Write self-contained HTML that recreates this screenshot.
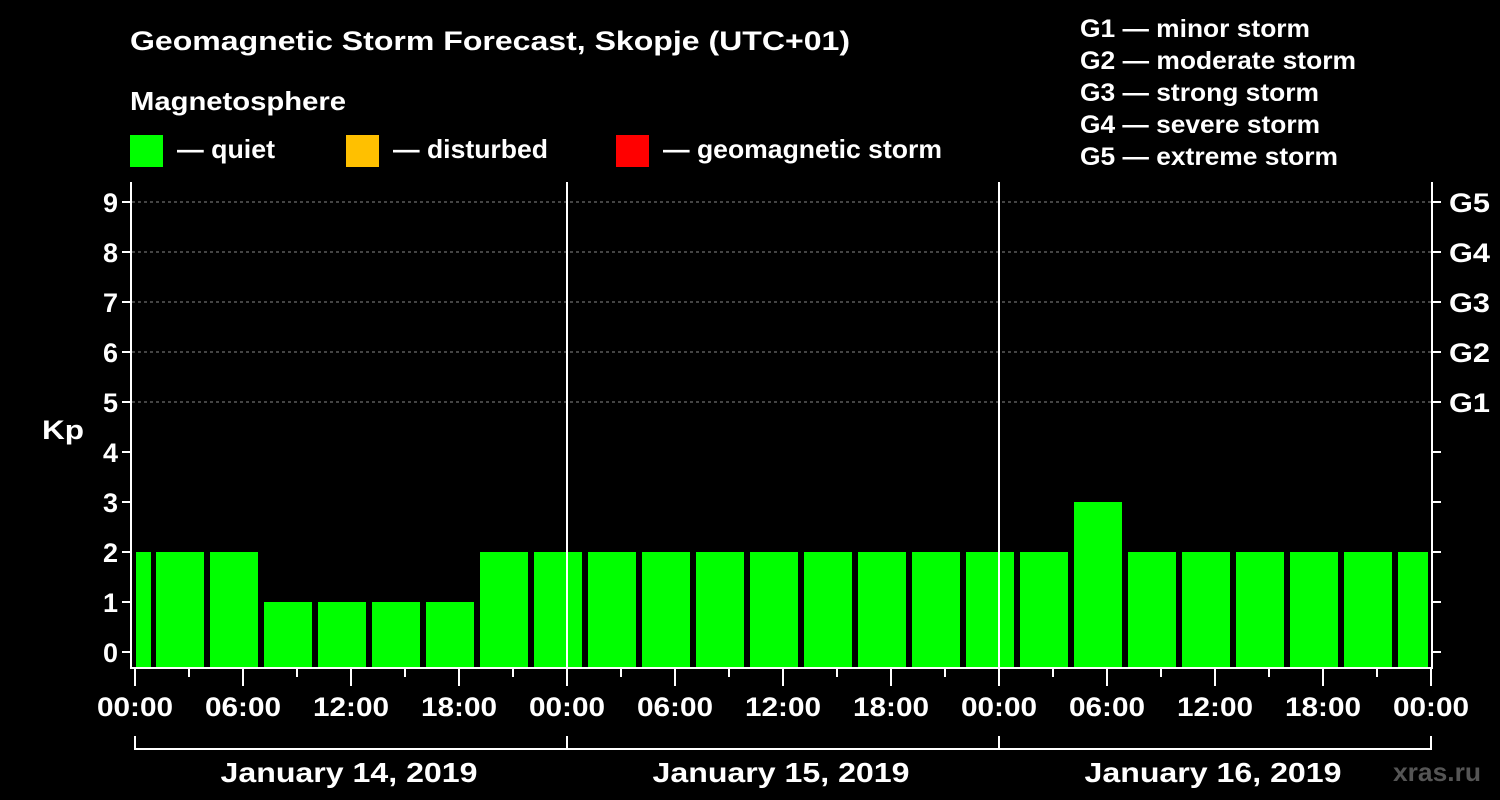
<!DOCTYPE html>
<html><head><style>body{margin:0;background:#000}svg{display:block}text{font-family:"Liberation Sans",Arial,sans-serif;font-weight:bold;fill:#fff}</style></head><body>
<svg width="1500" height="800" viewBox="0 0 1500 800" xmlns="http://www.w3.org/2000/svg">
<rect width="1500" height="800" fill="#000"/>
<text x="130" y="50" font-size="27" textLength="720" lengthAdjust="spacingAndGlyphs">Geomagnetic Storm Forecast, Skopje (UTC+01)</text>
<text x="130" y="110" font-size="26" textLength="216" lengthAdjust="spacingAndGlyphs">Magnetosphere</text>
<rect x="130" y="135" width="33" height="32" fill="#00ff00"/><text x="177" y="158" font-size="26" textLength="98" lengthAdjust="spacingAndGlyphs">— quiet</text>
<rect x="346" y="135" width="33" height="32" fill="#ffc000"/><text x="393" y="158" font-size="26" textLength="155" lengthAdjust="spacingAndGlyphs">— disturbed</text>
<rect x="616" y="135" width="33" height="32" fill="#ff0000"/><text x="663" y="158" font-size="26" textLength="279" lengthAdjust="spacingAndGlyphs">— geomagnetic storm</text>
<g font-size="25"><text x="1080" y="37" textLength="230" lengthAdjust="spacingAndGlyphs">G1 — minor storm</text><text x="1080" y="69" textLength="276" lengthAdjust="spacingAndGlyphs">G2 — moderate storm</text><text x="1080" y="101" textLength="239" lengthAdjust="spacingAndGlyphs">G3 — strong storm</text><text x="1080" y="133" textLength="240" lengthAdjust="spacingAndGlyphs">G4 — severe storm</text><text x="1080" y="165" textLength="258" lengthAdjust="spacingAndGlyphs">G5 — extreme storm</text></g>
<g stroke="#888" stroke-dasharray="3,3" stroke-width="1"><line x1="132" x2="1432" y1="202" y2="202"/><line x1="132" x2="1432" y1="252" y2="252"/><line x1="132" x2="1432" y1="302" y2="302"/><line x1="132" x2="1432" y1="352" y2="352"/><line x1="132" x2="1432" y1="402" y2="402"/></g>
<g fill="#00ff00">
<rect x="136" y="552" width="15" height="116"/>
<rect x="156" y="552" width="48" height="116"/><rect x="210" y="552" width="48" height="116"/>
<rect x="264" y="602" width="48" height="66"/><rect x="318" y="602" width="48" height="66"/><rect x="372" y="602" width="48" height="66"/><rect x="426" y="602" width="48" height="66"/>
<rect x="480" y="552" width="48" height="116"/><rect x="534" y="552" width="48" height="116"/><rect x="588" y="552" width="48" height="116"/><rect x="642" y="552" width="48" height="116"/><rect x="696" y="552" width="48" height="116"/><rect x="750" y="552" width="48" height="116"/><rect x="804" y="552" width="48" height="116"/><rect x="858" y="552" width="48" height="116"/><rect x="912" y="552" width="48" height="116"/><rect x="966" y="552" width="48" height="116"/><rect x="1020" y="552" width="48" height="116"/>
<rect x="1074" y="502" width="48" height="166"/>
<rect x="1128" y="552" width="48" height="116"/><rect x="1182" y="552" width="48" height="116"/><rect x="1236" y="552" width="48" height="116"/><rect x="1290" y="552" width="48" height="116"/><rect x="1344" y="552" width="48" height="116"/><rect x="1398" y="552" width="30" height="116"/>
</g>
<g stroke="#fff" stroke-width="2" fill="none">
<polyline points="131,182 131,668 1432,668 1432,182"/>
<line x1="567" y1="182" x2="567" y2="668"/><line x1="999" y1="182" x2="999" y2="668"/>
<path d="M122 202h9M122 252h9M122 302h9M122 352h9M122 402h9M122 452h9M122 502h9M122 552h9M122 602h9M122 652h9"/>
<path d="M1432 202h9M1432 252h9M1432 302h9M1432 352h9M1432 402h9M1432 452h9M1432 502h9M1432 552h9M1432 602h9M1432 652h9"/>
<path d="M135 668v18M351 668v18M567 668v18M783 668v18M999 668v18M1215 668v18M1431 668v18M243 668v18M459 668v18M675 668v18M891 668v18M1107 668v18M1323 668v18"/>
<path d="M189 668v9M297 668v9M405 668v9M513 668v9M621 668v9M729 668v9M837 668v9M945 668v9M1053 668v9M1161 668v9M1269 668v9M1377 668v9"/>
<polyline points="135,736 135,749 1431,749 1431,736"/><path d="M567 736v13M999 736v13"/>
</g>
<g font-size="27" text-anchor="end"><text x="118" y="212">9</text><text x="118" y="262">8</text><text x="118" y="312">7</text><text x="118" y="362">6</text><text x="118" y="412">5</text><text x="118" y="462">4</text><text x="118" y="512">3</text><text x="118" y="562">2</text><text x="118" y="612">1</text><text x="118" y="662">0</text></g>
<text x="42" y="439" font-size="27" textLength="42" lengthAdjust="spacingAndGlyphs">Kp</text>
<g font-size="27"><text x="1449" y="212" textLength="41" lengthAdjust="spacingAndGlyphs">G5</text><text x="1449" y="262" textLength="41" lengthAdjust="spacingAndGlyphs">G4</text><text x="1449" y="312" textLength="41" lengthAdjust="spacingAndGlyphs">G3</text><text x="1449" y="362" textLength="41" lengthAdjust="spacingAndGlyphs">G2</text><text x="1449" y="412" textLength="41" lengthAdjust="spacingAndGlyphs">G1</text></g>
<g font-size="27" text-anchor="middle"><text x="135" y="716" textLength="76" lengthAdjust="spacingAndGlyphs">00:00</text><text x="243" y="716" textLength="76" lengthAdjust="spacingAndGlyphs">06:00</text><text x="351" y="716" textLength="76" lengthAdjust="spacingAndGlyphs">12:00</text><text x="459" y="716" textLength="76" lengthAdjust="spacingAndGlyphs">18:00</text><text x="567" y="716" textLength="76" lengthAdjust="spacingAndGlyphs">00:00</text><text x="675" y="716" textLength="76" lengthAdjust="spacingAndGlyphs">06:00</text><text x="783" y="716" textLength="76" lengthAdjust="spacingAndGlyphs">12:00</text><text x="891" y="716" textLength="76" lengthAdjust="spacingAndGlyphs">18:00</text><text x="999" y="716" textLength="76" lengthAdjust="spacingAndGlyphs">00:00</text><text x="1107" y="716" textLength="76" lengthAdjust="spacingAndGlyphs">06:00</text><text x="1215" y="716" textLength="76" lengthAdjust="spacingAndGlyphs">12:00</text><text x="1323" y="716" textLength="76" lengthAdjust="spacingAndGlyphs">18:00</text><text x="1431" y="716" textLength="76" lengthAdjust="spacingAndGlyphs">00:00</text>
<text x="349" y="782" font-size="28" textLength="257" lengthAdjust="spacingAndGlyphs">January 14, 2019</text><text x="781" y="782" font-size="28" textLength="257" lengthAdjust="spacingAndGlyphs">January 15, 2019</text><text x="1213" y="782" font-size="28" textLength="257" lengthAdjust="spacingAndGlyphs">January 16, 2019</text></g>
<text x="1393" y="781" font-size="26" textLength="88" lengthAdjust="spacingAndGlyphs" style="fill:#555">xras.ru</text>
</svg></body></html>
